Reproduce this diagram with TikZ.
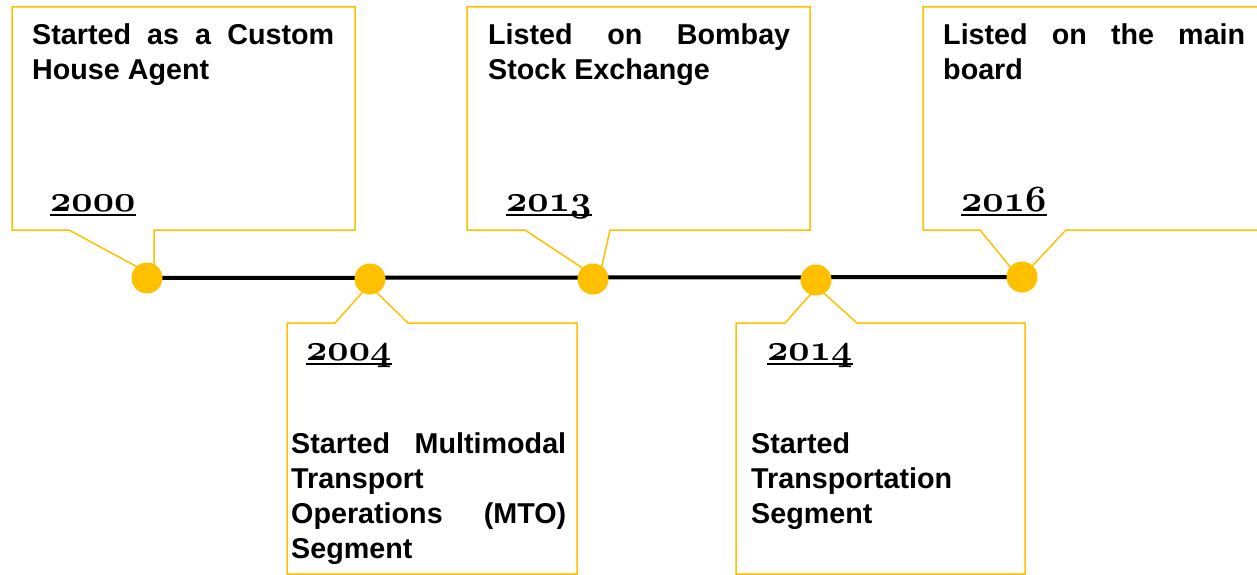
\documentclass[tikz,border=0pt]{standalone}
\usepackage{fontspec}
\setmainfont{Liberation Sans}
\usepackage{tikz}
\definecolor{gold}{HTML}{FFC000}
\font\yearfont=cmmib10 at 37pt
\tikzset{
  callout/.style={draw=gold, line width=1.5pt, fill=white, line join=miter},
  dot/.style={circle, fill=gold, inner sep=0pt, minimum size=31pt},
  event/.style={anchor=base west, inner sep=0pt, align=justify,
    font=\fontsize{28.7}{35}\selectfont\bfseries,
    execute at begin node={\tolerance=10000\hyphenpenalty=10000}},
  year/.style={anchor=base west, inner sep=0pt, text depth=3.5pt, font=\yearfont}
}

\begin{document}
\begin{tikzpicture}[x=1pt,y=-1pt]
\useasboundingbox (0,0) rectangle (1257,575);
\coordinate (c2000) at (147,278);
\coordinate (c2004) at (370,279);
\coordinate (c2013) at (593,279);
\coordinate (c2014) at (816,280);
\coordinate (c2016) at (1022,277);
% callouts above the line
\draw[callout] (12,7) -- (355,7) -- (355,230) -- (154,230) -- (154,276) -- (69,230) -- (12,230) -- cycle;
\draw[callout] (467,7) -- (810,7) -- (810,230) -- (610,230) -- (599,279) -- (525,230) -- (467,230) -- cycle;
\draw[callout] (923,7) -- (1275,7) -- (1275,230) -- (1066,230) -- (1020,279) -- (980,230) -- (923,230) -- cycle;
% callouts below the line
\draw[callout] (287,574) -- (287,323) -- (335,323) -- (369,285) -- (408,323) -- (577,323) -- (577,574) -- cycle;
\draw[callout] (736,574) -- (736,323) -- (785,323) -- (817,287) -- (857,323) -- (1025,323) -- (1025,574) -- cycle;
% timeline
\draw[line width=4pt] (c2000) -- (c2016);
\node[dot] (d2000) at (c2000) {};
\node[dot] (d2004) at (c2004) {};
\node[dot] (d2013) at (c2013) {};
\node[dot] (d2014) at (c2014) {};
\node[dot] (d2016) at (c2016) {};
% texts
\node[event, text width=302pt] (t2000) at (32,45) {Started as a Custom House Agent};
\node[event, text width=302pt] (t2013) at (488,45) {Listed on Bombay Stock Exchange};
\node[event, text width=302pt] (t2016) at (943,45) {Listed on the main board};
\node[event, text width=275pt] (t2004) at (291,453) {Started Multimodal Transport Operations (MTO) Segment};
\node[event, text width=265pt] (t2014) at (751,453) {Started Transportation Segment};
% years
\node[year] (y2000) at (50,211) {2000};
\node[year] (y2013) at (506,211) {2013};
\node[year] (y2016) at (961,211) {2016};
\node[year] (y2004) at (306,360) {2004};
\node[year] (y2014) at (767,360) {2014};
\foreach \y in {2000,2013,2016,2004,2014}
  \draw[line width=2pt] (y\y.south west) -- (y\y.south east);
\end{tikzpicture}
\end{document}
